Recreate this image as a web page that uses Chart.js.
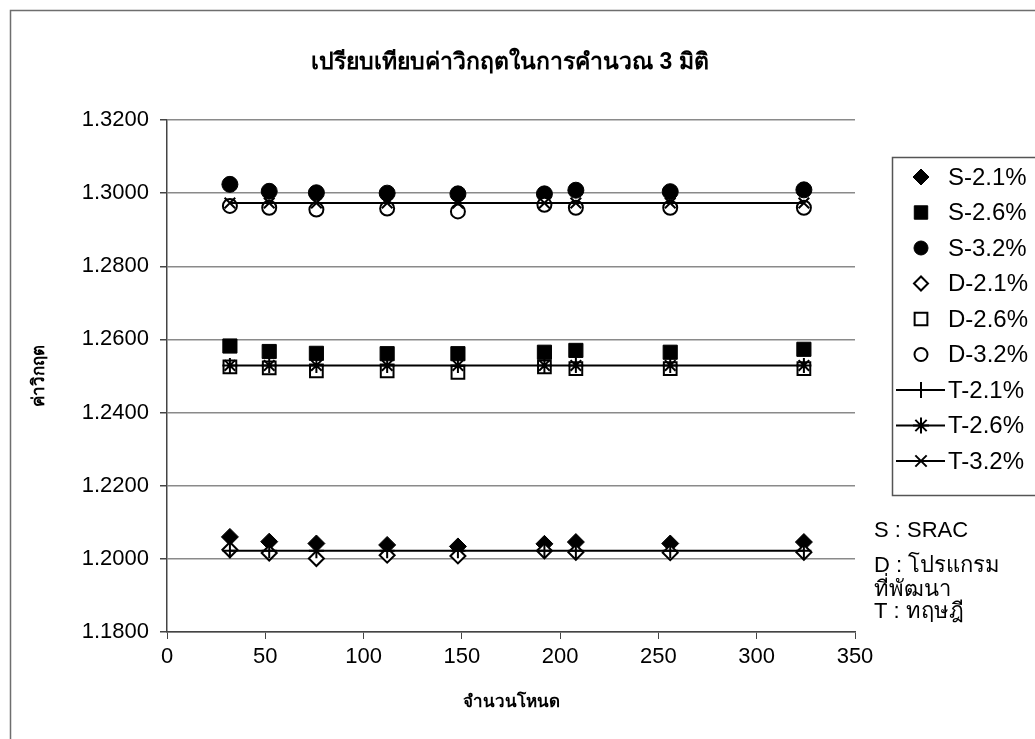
<!DOCTYPE html>
<html><head><meta charset="utf-8">
<script src="https://cdn.jsdelivr.net/npm/chart.js@4/dist/chart.umd.min.js"></script>
<style>html,body{margin:0;padding:0;background:#fff;}canvas{display:block}</style>
</head><body>
<canvas id="c" width="1035" height="739"></canvas>
<script>
// ---- data ----
const nodes = [32, 52, 76, 112, 148, 192, 208, 256, 324];
const seriesNames = ['S-2.1%', 'S-2.6%', 'S-3.2%', 'D-2.1%', 'D-2.6%', 'D-3.2%', 'T-2.1%', 'T-2.6%', 'T-3.2%'];
const s21 = [1.2060, 1.2047, 1.2042, 1.2038, 1.2034, 1.2041, 1.2046, 1.2042, 1.2046];
const s26 = [1.2582, 1.2567, 1.2562, 1.2561, 1.2561, 1.2565, 1.2570, 1.2565, 1.2573];
const s32 = [1.3024, 1.3005, 1.3001, 1.3000, 1.2998, 1.2998, 1.3008, 1.3004, 1.3009];
const d21 = [1.2025, 1.2016, 1.2001, 1.2010, 1.2008, 1.2022, 1.2018, 1.2017, 1.2018];
const d26 = [1.2525, 1.2522, 1.2514, 1.2514, 1.2510, 1.2525, 1.2520, 1.2520, 1.2520];
const d32 = [1.2965, 1.2960, 1.2955, 1.2958, 1.2950, 1.2968, 1.2960, 1.2960, 1.2960];
const t21 = [1.2022, 1.2022, 1.2022, 1.2022, 1.2022, 1.2022, 1.2022, 1.2022, 1.2022];
const t26 = [1.2529, 1.2529, 1.2529, 1.2529, 1.2529, 1.2529, 1.2529, 1.2529, 1.2529];
const t32 = [1.2973, 1.2973, 1.2973, 1.2973, 1.2973, 1.2973, 1.2973, 1.2973, 1.2973];
const chartTitle = 'เปรียบเทียบค่าวิกฤตในการคำนวณ 3 มิติ';
const xTitle = 'จำนวนโหนด';
const yTitle = 'ค่าวิกฤต';
const noteLines = ['S : SRAC', 'D : โปรแกรม', 'ที่พัฒนา', 'T : ทฤษฎี'];
const xMin = 0, xMax = 350, xStep = 50;
const yMin = 1.18, yMax = 1.32, yStep = 0.02;

const FONT = "'Liberation Sans', Arial, 'DejaVu Sans', sans-serif";
const toXY = arr => arr.map((v, i) => ({x: nodes[i], y: v}));

const styles = [
  {pointStyle: 'rectRot', r: 8.5, fill: '#000', line: false, lr: 8},
  {pointStyle: 'rect', r: 10, fill: '#000', line: false, lr: 9.5},
  {pointStyle: 'circle', r: 8, fill: '#000', line: false, lr: 7},
  {pointStyle: 'rectRot', r: 7.5, fill: '#fff', line: false, lr: 7},
  {pointStyle: 'rect', r: 9, fill: '#fff', line: false, lr: 9},
  {pointStyle: 'circle', r: 7, fill: '#fff', line: false, lr: 6.5},
  {pointStyle: 'cross', r: 7.5, fill: '#000', line: true, lr: 8},
  {pointStyle: 'star', r: 7.5, fill: '#000', line: true, lr: 8},
  {pointStyle: 'crossRot', r: 7.5, fill: '#000', line: true, lr: 8},
];
const values = [s21, s26, s32, d21, d26, d32, t21, t26, t32];

const datasets = values.map((vals, i) => {
  const st = styles[i];
  return {
    label: seriesNames[i],
    data: toXY(vals),
    showLine: st.line,
    borderColor: '#000',
    borderWidth: 2,
    backgroundColor: st.fill,
    pointStyle: st.pointStyle,
    pointRadius: st.r,
    pointHoverRadius: st.r,
    pointBackgroundColor: st.fill,
    pointBorderColor: '#000',
    pointBorderWidth: (st.fill === '#fff' || st.line) ? 2 : 1,
    order: values.length - i,
  };
});

const framePlugin = {
  id: 'frame',
  beforeDraw(chart) {
    const ctx = chart.ctx;
    ctx.save();
    ctx.fillStyle = '#fff';
    ctx.fillRect(0, 0, chart.width, chart.height);
    ctx.strokeStyle = '#6e6e6e';
    ctx.lineWidth = 1.5;
    ctx.strokeRect(10.5, 10.5, 1200, 1000);
    ctx.fillStyle = '#000';
    ctx.font = 'bold 23px ' + FONT;
    ctx.textAlign = 'center';
    ctx.textBaseline = 'middle';
    ctx.fillText(chartTitle, 510, 63);
    ctx.restore();
  }
};

const legendPlugin = {
  id: 'customLegend',
  afterDraw(chart) {
    const ctx = chart.ctx;
    ctx.save();
    ctx.strokeStyle = '#555';
    ctx.lineWidth = 1.5;
    ctx.strokeRect(892.5, 157.5, 300, 338);
    const y0 = 177, step = 35.5, mx = 921;
    chart.data.datasets.forEach((ds, i) => {
      const st = styles[i];
      const y = y0 + i * step;
      ctx.strokeStyle = '#000';
      ctx.fillStyle = st.fill;
      if (st.line) {
        ctx.lineWidth = 2;
        ctx.beginPath();
        ctx.moveTo(896, y);
        ctx.lineTo(945, y);
        ctx.stroke();
      }
      ctx.lineWidth = ds.pointBorderWidth;
      Chart.helpers.drawPoint(ctx, {pointStyle: st.pointStyle, radius: st.lr, borderWidth: ds.pointBorderWidth, rotation: 0}, mx, y);
      ctx.fillStyle = '#000';
      ctx.font = '24px ' + FONT;
      ctx.textBaseline = 'middle';
      ctx.textAlign = 'left';
      ctx.fillText(ds.label, 948, y + 1);
    });
    ctx.font = '22px ' + FONT;
    const ny = [531, 566, 590, 612];
    noteLines.forEach((t, i) => ctx.fillText(t, 874, ny[i]));
    ctx.restore();
  }
};

new Chart(document.getElementById('c'), {
  type: 'scatter',
  data: {datasets},
  plugins: [framePlugin, legendPlugin],
  options: {
    responsive: false,
    animation: false,
    layout: {padding: {left: 0, right: 180, top: 120, bottom: 0}},
    plugins: {
      legend: {display: false},
      tooltip: {enabled: false},
      title: {display: false}
    },
    scales: {
      x: {
        type: 'linear', min: xMin, max: xMax,
        ticks: {stepSize: xStep, color: '#000', font: {family: FONT, size: 22}, padding: 5, maxRotation: 0},
        grid: {drawOnChartArea: false, drawTicks: true, tickLength: 7, color: '#444', tickColor: '#444'},
        border: {color: '#444', width: 1.5},
        title: {display: true, text: xTitle, color: '#000', font: {family: FONT, size: 17, weight: 'bold'}, padding: {top: 0, bottom: 26}},
        afterFit(s) { s.height = 107; }
      },
      y: {
        type: 'linear', min: yMin, max: yMax,
        ticks: {stepSize: yStep, color: '#000', font: {family: FONT, size: 22}, padding: 11, callback: v => Number(v).toFixed(4)},
        grid: {color: '#8a8a8a', lineWidth: 1.5, tickLength: 7, tickColor: '#444'},
        border: {color: '#444', width: 1.5},
        title: {display: true, text: yTitle, color: '#000', font: {family: FONT, size: 17, weight: 'bold'}, padding: {top: 29, bottom: 0}},
        afterFit(s) { s.width = 167; }
      }
    }
  }
});
</script>
</body></html>
